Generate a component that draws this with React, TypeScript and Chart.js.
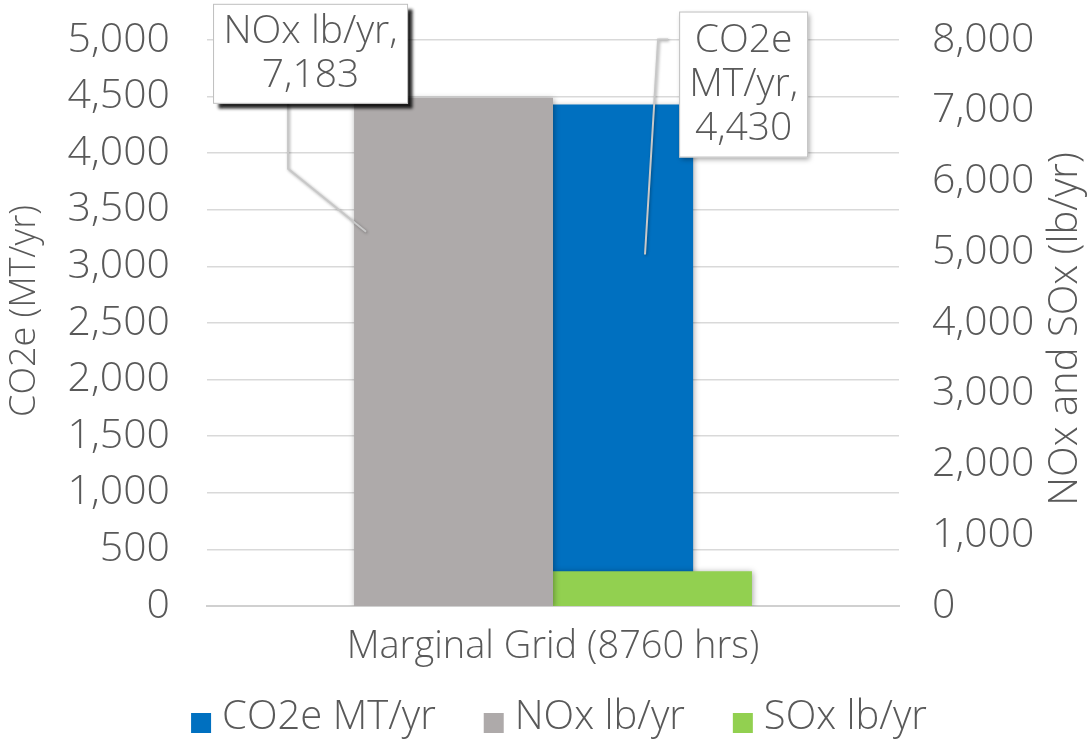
import React, { useEffect, useRef } from 'react';
import { Chart, registerables } from 'chart.js';

Chart.register(...registerables);

// ---------- data ----------
const categories = ['Marginal Grid (8760 hrs)'];
const co2eValues: number[] = [4430];
const noxValues: number[] = [7183];
const soxValues: number[] = [490];

const seriesLabels = ['CO2e MT/yr', 'NOx lb/yr', 'SOx lb/yr'];
const seriesColors = ['#0070C0', '#AEAAAA', '#92D050'];

const leftAxisTitle = 'CO2e (MT/yr)';
const rightAxisTitle = 'NOx and SOx (lb/yr)';
const leftAxisMax = 5000;
const leftAxisStep = 500;
const rightAxisMax = 8000;
const rightAxisStep = 1000;

// callout text lines (label part) per dataset index
const calloutLabelLines: Record<number, string[]> = {
  0: ['CO2e', 'MT/yr,'],
  1: ['NOx lb/yr,'],
};

// ---------- styles ----------
const FAMILY = '"Open Sans", sans-serif';
const WEIGHT = 350;
const TEXT = '#595959';
const GRID = '#d9d9d9';
const f = (size: number) => `${WEIGHT} ${size}px ${FAMILY}`;

const fmt = (v: number) => v.toLocaleString('en-US');

const decorPlugin = {
  id: 'decor',
  beforeDatasetDraw(chart: any) {
    const ctx = chart.ctx;
    ctx.save();
    ctx.shadowColor = 'rgba(0,0,0,0.35)';
    ctx.shadowBlur = 6;
    ctx.shadowOffsetX = 1;
    ctx.shadowOffsetY = 1;
  },
  afterDatasetDraw(chart: any) {
    chart.ctx.restore();
  },
  afterDraw(chart: any) {
    const ctx: CanvasRenderingContext2D = chart.ctx;
    const area = chart.chartArea;
    const midY = (area.top + area.bottom) / 2;
    ctx.save();
    ctx.fillStyle = TEXT;

    const drawCallout = (
      dsIndex: number,
      box: { dx: number; dy: number; w: number; h: number; fromRight: boolean },
      leader: (bx: number, by: number, bar: any) => [number, number][],
      shadow: { color: string; blur: number; ox: number; oy: number }
    ) => {
      const meta = chart.getDatasetMeta(dsIndex);
      const bar: any = meta.data[0];
      if (!bar) return;
      const left = bar.x - bar.width / 2;
      const right = bar.x + bar.width / 2;
      const bx = (box.fromRight ? right : left) + box.dx;
      const by = bar.y + box.dy;
      const pts = leader(bx, by, { left, right, top: bar.y, bottom: bar.base });
      ctx.save();
      ctx.strokeStyle = '#c8c8c8';
      ctx.lineWidth = 2;
      ctx.shadowColor = 'rgba(0,0,0,0.35)';
      ctx.shadowBlur = 3;
      ctx.shadowOffsetX = 1;
      ctx.shadowOffsetY = 1;
      ctx.beginPath();
      pts.forEach(([x, y], i) => (i === 0 ? ctx.moveTo(x, y) : ctx.lineTo(x, y)));
      ctx.stroke();
      ctx.restore();
      ctx.save();
      ctx.shadowColor = shadow.color;
      ctx.shadowBlur = shadow.blur;
      ctx.shadowOffsetX = shadow.ox;
      ctx.shadowOffsetY = shadow.oy;
      ctx.fillStyle = '#ffffff';
      ctx.fillRect(bx, by, box.w, box.h);
      ctx.restore();
      ctx.save();
      ctx.strokeStyle = '#bfbfbf';
      ctx.lineWidth = 1;
      ctx.strokeRect(bx + 0.5, by + 0.5, box.w - 1, box.h - 1);
      ctx.restore();
      const value = chart.data.datasets[dsIndex].data[0] as number;
      const lines = [...(calloutLabelLines[dsIndex] || []), fmt(value)];
      const lh = 44;
      const cy = by + box.h / 2;
      ctx.font = f(39);
      ctx.textAlign = 'center';
      ctx.textBaseline = 'middle';
      ctx.fillStyle = TEXT;
      lines.forEach((t, i) => {
        ctx.fillText(t, bx + box.w / 2, cy + (i - (lines.length - 1) / 2) * lh);
      });
    };

    // NOx callout
    drawCallout(
      1,
      { dx: -141, dy: -94, w: 195, h: 100, fromRight: false },
      (bx, by, b) => [
        [bx + 75, by + 100],
        [bx + 75, by + 165],
        [b.left + 12, b.top + 134],
      ],
      { color: 'rgba(0,0,0,0.85)', blur: 3, ox: 5, oy: 5 }
    );
    // CO2e callout
    drawCallout(
      0,
      { dx: -14, dy: -93, w: 129, h: 146, fromRight: true },
      (bx, by, b) => [
        [bx - 11, by + 28],
        [bx - 21, by + 28],
        [b.left + 92, b.top + 150],
      ],
      { color: 'rgba(0,0,0,0.35)', blur: 5, ox: 2, oy: 2 }
    );

    // axis titles (both read bottom-to-top)
    const drawTitle = (text: string, x: number, y: number, size: number) => {
      ctx.save();
      ctx.translate(x, y);
      ctx.rotate(-Math.PI / 2);
      ctx.font = f(size);
      ctx.textAlign = 'center';
      ctx.textBaseline = 'middle';
      ctx.fillStyle = TEXT;
      ctx.fillText(text, 0, 0);
      ctx.restore();
    };
    drawTitle(leftAxisTitle, 25, midY - 12, 36);
    drawTitle(rightAxisTitle, chart.width - 25, midY + 6, 40);

    // legend
    const items = chart.data.datasets;
    const boxSize = 20;
    const gap = 11;
    const spacing = 48;
    ctx.font = f(40);
    const widths = items.map((d: any) => boxSize + gap + ctx.measureText(d.label).width);
    const total = widths.reduce((a: number, b: number) => a + b, 0) + spacing * (items.length - 1);
    let x = (area.left + area.right) / 2 + 6 - total / 2;
    const ly = chart.height - 25;
    ctx.textAlign = 'left';
    ctx.textBaseline = 'middle';
    items.forEach((d: any, k: number) => {
      ctx.fillStyle = d.backgroundColor;
      ctx.fillRect(x, ly - boxSize / 2 + 5, boxSize, boxSize);
      ctx.fillStyle = TEXT;
      ctx.fillText(d.label, x + boxSize + gap, ly);
      x += widths[k] + spacing;
    });
    ctx.restore();
  },
};

export default function App() {
  const ref = useRef<HTMLCanvasElement>(null);
  useEffect(() => {
    document.body.style.margin = '0';
    const tickFont = { family: FAMILY, size: 41, weight: WEIGHT };
    const xFont = { family: FAMILY, size: 38, weight: WEIGHT };
    const chart = new Chart(ref.current as HTMLCanvasElement, {
      type: 'bar',
      data: {
        labels: categories,
        datasets: [
          {
            label: seriesLabels[0],
            data: co2eValues,
            backgroundColor: seriesColors[0],
            yAxisID: 'y',
            stack: 'right',
            order: 1,
            categoryPercentage: 0.405,
            barPercentage: 1,
          },
          {
            label: seriesLabels[1],
            data: noxValues,
            backgroundColor: seriesColors[1],
            yAxisID: 'y2',
            stack: 'left',
            order: 0,
            categoryPercentage: 0.575,
            barPercentage: 1,
          },
          {
            label: seriesLabels[2],
            data: soxValues,
            backgroundColor: seriesColors[2],
            yAxisID: 'y2',
            stack: 'right',
            order: 0,
            categoryPercentage: 0.575,
            barPercentage: 1,
          },
        ],
      },
      options: {
        animation: false,
        responsive: true,
        maintainAspectRatio: false,
        layout: { padding: { top: 40, bottom: 69, left: 0, right: 0 } },
        plugins: {
          legend: { display: false },
          tooltip: { enabled: false },
        },
        scales: {
          x: {
            type: 'category',
            position: 'bottom',
            grid: { display: false, drawTicks: false },
            border: { display: true, color: '#d0d0d0', width: 2 },
            ticks: { color: TEXT, font: xFont, padding: 18 },
            afterFit: (s: any) => {
              s.height = 68;
            },
          },
          y: {
            type: 'linear',
            position: 'left',
            min: 0,
            max: leftAxisMax,
            grid: { color: GRID, lineWidth: 1.5, drawTicks: false },
            border: { display: false },
            ticks: {
              stepSize: leftAxisStep,
              color: TEXT,
              font: tickFont,
              padding: 37,
              callback: (v: any) => fmt(Number(v)),
            },
            afterFit: (s: any) => {
              s.width = 207;
              s.paddingTop = 0;
              s.paddingBottom = 0;
            },
          },
          y2: {
            type: 'linear',
            position: 'right',
            min: 0,
            max: rightAxisMax,
            grid: { display: false, drawTicks: false },
            border: { display: false },
            ticks: {
              stepSize: rightAxisStep,
              color: TEXT,
              font: tickFont,
              padding: 33,
              callback: (v: any) => fmt(Number(v)),
            },
            afterFit: (s: any) => {
              s.width = 192;
              s.paddingTop = 0;
              s.paddingBottom = 0;
            },
          },
        },
      } as any,
      plugins: [decorPlugin],
    });
    return () => chart.destroy();
  }, []);
  return (
    <div style={{ position: 'fixed', left: 0, top: 0, width: '1091px', height: '743px' }}>
      <canvas ref={ref} />
    </div>
  );
}
